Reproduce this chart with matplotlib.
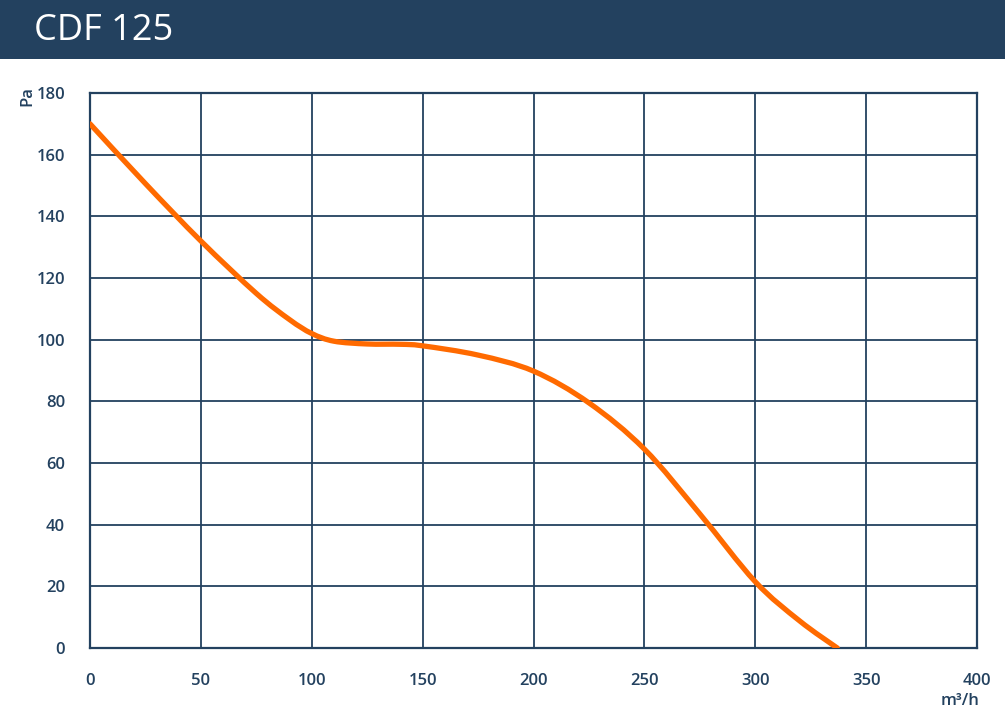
import matplotlib.pyplot as plt
from matplotlib.patches import Rectangle, PathPatch
from matplotlib.path import Path

# CDF 125 fan curve
airflow = [0, 25, 50, 75, 90, 100, 110, 125, 140, 150, 175, 200, 225, 250, 275, 300, 320, 337]
pressure = [170, 150.6, 132, 115, 106.5, 102, 99.5, 98.6, 98.5, 98, 95, 89.8, 79.5, 64.5, 43.5, 21.5, 8.8, 0]

x_ticks = [0, 50, 100, 150, 200, 250, 300, 350, 400]
y_ticks = [0, 20, 40, 60, 80, 100, 120, 140, 160, 180]

navy = '#23415f'
orange = '#ff6a00'


def smooth_path(xs, ys):
    # catmull-rom through the points, written as cubic bezier segments
    pts = list(zip(xs, ys))
    verts = [pts[0]]
    codes = [Path.MOVETO]
    n = len(pts)
    for i in range(n - 1):
        p0 = pts[i - 1] if i > 0 else pts[i]
        p1 = pts[i]
        p2 = pts[i + 1]
        p3 = pts[i + 2] if i + 2 < n else pts[i + 1]
        c1 = (p1[0] + (p2[0] - p0[0]) / 6, p1[1] + (p2[1] - p0[1]) / 6)
        c2 = (p2[0] - (p3[0] - p1[0]) / 6, p2[1] - (p3[1] - p1[1]) / 6)
        verts += [c1, c2, p2]
        codes += [Path.CURVE4] * 3
    return Path(verts, codes)


plt.rcParams['font.family'] = ['Open Sans', 'DejaVu Sans']

fig = plt.figure(figsize=(10.05, 7.17), dpi=100)
fig.patch.set_facecolor('white')

# header band with title
fig.patches.append(Rectangle((0, 1 - 59 / 717), 1, 59 / 717, transform=fig.transFigure,
                             facecolor=navy, edgecolor='none', zorder=0))
fig.text(34 / 1005, 1 - 31 / 717, 'CDF 125', color='white', fontsize=26,
         ha='left', va='center')

ax = fig.add_axes([90 / 1005, 69 / 717, 887 / 1005, 555 / 717])
curve = PathPatch(smooth_path(airflow, pressure), facecolor='none', edgecolor=orange,
                  linewidth=3.8, capstyle='round', joinstyle='round', zorder=3)
ax.add_patch(curve)

ax.set_xlim(0, 400)
ax.set_ylim(0, 180)
ax.set_xticks(x_ticks)
ax.set_yticks(y_ticks)
ax.grid(True, color=navy, linewidth=1.3)
ax.set_axisbelow(True)
for s in ax.spines.values():
    s.set_color(navy)
    s.set_linewidth(1.6)
ax.tick_params(length=0, colors=navy, labelsize=12)
ax.tick_params(axis='x', pad=18)
ax.tick_params(axis='y', pad=18)
for lbl in ax.get_xticklabels() + ax.get_yticklabels():
    lbl.set_fontweight('semibold')

fig.text(27 / 1005, 1 - 96 / 717, 'Pa', color=navy, fontsize=12, rotation=90,
         ha='center', va='center', fontweight='semibold')
fig.text(960 / 1005, 1 - 701 / 717, 'm³/h', color=navy, fontsize=12,
         ha='center', va='center', fontweight='semibold')

fig.savefig('out.png', dpi=100)
